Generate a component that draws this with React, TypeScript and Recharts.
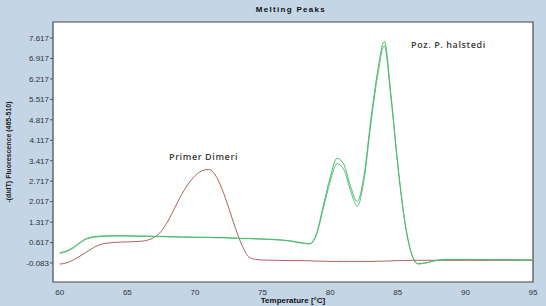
import React from "react";
import {
  LineChart,
  Line,
  XAxis,
  YAxis,
  ReferenceArea,
  Label,
} from "recharts";

// temperature grid (°C), denser around the peaks
const temps = [
  60, 60.5, 61, 61.5, 62, 63, 64, 65, 66, 66.5, 67, 67.5, 68, 68.5, 69, 69.5,
  70, 70.5, 71, 71.5, 72, 72.5, 73, 73.5, 74, 74.5, 75, 76, 77, 78, 78.5, 79,
  79.5, 80, 80.5, 81, 81.5, 82, 82.5, 83, 83.5, 84, 84.5, 85, 85.5, 86, 86.5,
  87, 88, 89, 90, 92, 95,
];

// positive sample, replicate 1 (upper)
const halstediA = [
  0.27, 0.33, 0.45, 0.62, 0.76, 0.84, 0.85, 0.85, 0.84, 0.84, 0.83, 0.83, 0.82,
  0.82, 0.81, 0.81, 0.8, 0.8, 0.8, 0.79, 0.79, 0.78, 0.77, 0.76, 0.76, 0.75,
  0.74, 0.72, 0.68, 0.6, 0.58, 0.95, 1.9, 2.85, 3.5, 3.3, 2.55, 2.02, 2.9, 4.8,
  6.45, 7.5, 5.65, 3.3, 1.4, 0.27, -0.1, -0.08, 0.02, 0.04, 0.04, 0.03, 0.02,
];

// positive sample, replicate 2 (lower)
const halstediB = [
  0.25, 0.31, 0.43, 0.6, 0.74, 0.82, 0.84, 0.84, 0.83, 0.83, 0.82, 0.82, 0.81,
  0.81, 0.8, 0.8, 0.79, 0.79, 0.79, 0.78, 0.78, 0.77, 0.76, 0.75, 0.75, 0.74,
  0.73, 0.71, 0.67, 0.59, 0.57, 0.9, 1.8, 2.7, 3.32, 3.12, 2.4, 1.86, 2.75,
  4.65, 6.3, 7.35, 5.55, 3.25, 1.38, 0.25, -0.12, -0.09, 0.01, 0.03, 0.04,
  0.03, 0.02,
];

// primer dimer sample
const primerDimer = [
  -0.12, -0.08, 0.02, 0.15, 0.3, 0.55, 0.62, 0.64, 0.66, 0.7, 0.8, 1.0, 1.35,
  1.8, 2.25, 2.62, 2.9, 3.07, 3.12, 2.93, 2.45, 1.8, 1.1, 0.5, 0.12, 0.04,
  0.02, 0.01, 0.0, 0.0, -0.01, -0.02, -0.02, -0.03, -0.03, -0.03, -0.03, -0.03,
  -0.03, -0.03, -0.02, -0.02, -0.01, 0.0, 0.0, 0.01, 0.01, 0.01, 0.01, 0.01,
  0.01, 0.01, 0.01,
];

const xTicks = [60, 65, 70, 75, 80, 85, 90, 95];
const yTicks = [
  -0.083, 0.617, 1.317, 2.017, 2.717, 3.417, 4.117, 4.817, 5.517, 6.217,
  6.917, 7.617,
];

const data = temps.map((t, i) => ({
  t,
  a: halstediA[i],
  b: halstediB[i],
  r: primerDimer[i],
}));

const X_DOMAIN: [number, number] = [59.5, 95];
const Y_DOMAIN: [number, number] = [-0.733, 8.165];

const tickStyle = { fill: "#333", fontSize: 8, fontFamily: "Liberation Sans" };

const noteStyle: React.CSSProperties = {
  position: "absolute",
  zIndex: 2,
  fontSize: 9,
  fontWeight: 600,
  letterSpacing: 0.6,
  color: "#3a3a3a",
  fontFamily: "Open Sans",
  whiteSpace: "nowrap",
};

export default function App() {
  return (
    <div
      style={{
        position: "fixed",
        left: 0,
        top: 0,
        width: 546,
        height: 306,
        background: "#c4d5e6",
        fontFamily: "Liberation Sans",
      }}
    >
      <LineChart
        width={546}
        height={306}
        data={data}
        margin={{ top: 22, right: 13, bottom: 0, left: 0 }}
      >
        <XAxis
          dataKey="t"
          type="number"
          domain={X_DOMAIN}
          ticks={xTicks}
          allowDataOverflow
          tickLine={false}
          axisLine={false}
          height={24}
          tick={tickStyle}
          tickMargin={1}
        >
          <Label
            value="Temperature [°C]"
            position="insideBottom"
            offset={3}
            style={{ fontSize: 8, fontWeight: "bold", fill: "#111" }}
          />
        </XAxis>
        <YAxis
          type="number"
          domain={Y_DOMAIN}
          ticks={yTicks}
          allowDataOverflow
          width={53}
          tickSize={3}
          tickLine={{ stroke: "#555" }}
          axisLine={false}
          tick={tickStyle}
          tickMargin={1}
          tickFormatter={(v: number) => v.toFixed(3)}
        >
          <Label
            value="-(d/dT) Fluorescence (465-510)"
            angle={-90}
            position="insideLeft"
            offset={9}
            style={{
              fontSize: 7,
              fontWeight: "bold",
              fill: "#222",
              textAnchor: "middle",
            }}
          />
        </YAxis>
        <ReferenceArea
          x1={X_DOMAIN[0]}
          x2={X_DOMAIN[1]}
          y1={Y_DOMAIN[0]}
          y2={Y_DOMAIN[1]}
          fill="#ffffff"
          fillOpacity={1}
          stroke="#4a4a4a"
          strokeWidth={1.2}
        />
        <Line
          type="monotone"
          dataKey="r"
          stroke="#b3605e"
          strokeWidth={1}
          dot={false}
          isAnimationActive={false}
        />
        <Line
          type="monotone"
          dataKey="b"
          stroke="#5cc27a"
          strokeWidth={1}
          dot={false}
          isAnimationActive={false}
        />
        <Line
          type="monotone"
          dataKey="a"
          stroke="#4cb96b"
          strokeWidth={1}
          dot={false}
          isAnimationActive={false}
        />
      </LineChart>
      <div
        style={{
          position: "absolute",
          zIndex: 2,
          left: 0,
          width: 546,
          top: 5,
          textAlign: "center",
          fontSize: 8,
          fontWeight: "bold",
          letterSpacing: 1.3,
          color: "#111",
          paddingLeft: 36,
          boxSizing: "border-box",
        }}
      >
        Melting Peaks
      </div>
      <div style={{ ...noteStyle, left: 169, top: 150 }}>Primer Dimeri</div>
      <div style={{ ...noteStyle, left: 411, top: 38 }}>Poz. P. halstedi</div>
    </div>
  );
}
